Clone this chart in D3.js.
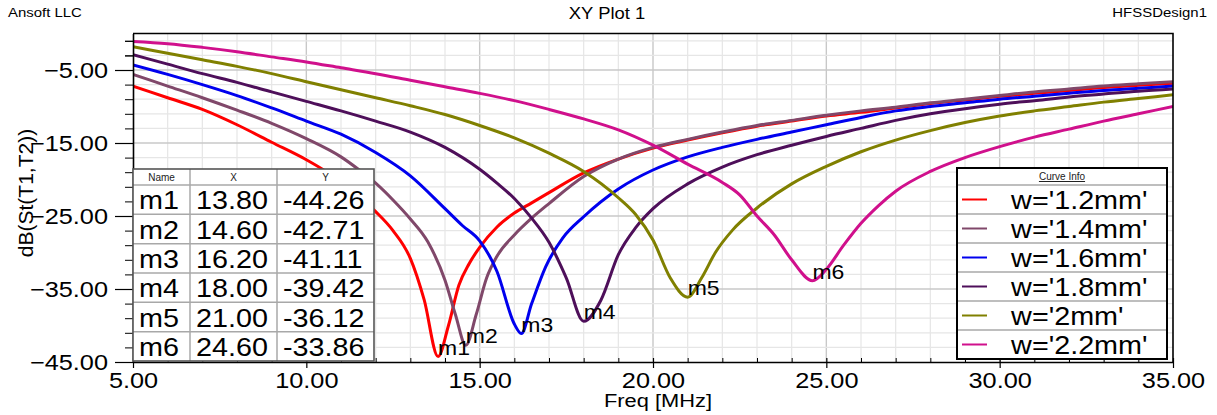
<!DOCTYPE html>
<html>
<head>
<meta charset="utf-8">
<script src="https://cdn.jsdelivr.net/npm/d3@7"></script>
<style>
body { margin: 0; background: #fff; }
svg { display: block; font-family: "Liberation Sans", Arial, sans-serif; }
/* the reference text is a little wider than Arial, so stretch it */
.sxl { transform-box: fill-box; transform-origin: 0% 50%; transform: scaleX(1.15); }
.sxr { transform-box: fill-box; transform-origin: 100% 50%; transform: scaleX(1.15); }
.sxc { transform-box: fill-box; transform-origin: 50% 50%; transform: scaleX(1.15); }
</style>
</head>
<body>
<script>
// XY Plot 1 - dB(St(T1,T2)) vs Freq for six widths w

var width = 1217;
var height = 415;

var seriesNames = ["w='1.2mm'", "w='1.4mm'", "w='1.6mm'", "w='1.8mm'", "w='2mm'", "w='2.2mm'"];
var seriesColors = ["#ff0000", "#80486a", "#0000ee", "#4e0f5a", "#808000", "#d0108c"];

// freq [MHz] and dB for each curve
var f12 = [5,6,7,8,9,10,10.5,11,11.5,12,12.5,13,13.4,13.8,14.1,14.4,14.7,15,15.5,16,16.5,17,18,19,20,21,22,23,24,25,26,27,28,29,30,31,32,33,34,35];
var s12 = [-7.2,-8.8,-10.4,-12.5,-14.9,-17.3,-18.7,-20.3,-22.2,-24.4,-27.0,-30.8,-36.5,-44.26,-40.0,-34.5,-31.5,-29.3,-26.5,-24.6,-23.2,-21.8,-19.1,-17.2,-15.7,-14.6,-13.6,-12.7,-12.0,-11.3,-10.8,-10.2,-9.6,-9.1,-8.6,-8.2,-7.8,-7.4,-7.1,-6.8];

var f14 = [5,6,7,8,9,10,11,11.5,12,12.5,13,13.5,14,14.3,14.6,14.9,15.2,15.5,16,16.5,17,18,19,20,21,22,23,24,25,26,27,28,29,30,31,32,33,34,35];
var s14 = [-5.6,-7.2,-8.8,-10.5,-12.3,-14.4,-16.9,-18.6,-20.5,-22.8,-25.4,-28.5,-33.8,-38.5,-42.71,-38.5,-33.5,-30.5,-27.6,-25.3,-23.3,-19.6,-17.2,-15.6,-14.5,-13.5,-12.6,-11.9,-11.2,-10.6,-10.1,-9.5,-9.0,-8.5,-8.0,-7.6,-7.2,-6.9,-6.6];

var f16 = [5,6,7,8,9,10,11,12,13,14,14.5,15,15.5,16,16.2,16.5,16.9,17.4,18,19,20,21,22,23,24,25,26,27,28,29,30,31,32,33,34,35];
var s16 = [-4.3,-5.6,-7.0,-8.5,-10.2,-12.0,-13.8,-16.3,-19.5,-24.0,-26.3,-28.4,-32.6,-39.8,-41.11,-37.0,-32.0,-28.0,-25.1,-21.3,-18.7,-16.9,-15.6,-14.5,-13.5,-12.5,-11.5,-10.6,-10.0,-9.5,-9.0,-8.6,-8.2,-7.8,-7.5,-7.2];

var f18 = [5,6,7,8,9,10,11,12,13,14,15,15.5,16,16.5,17,17.5,18,18.5,19,19.5,20,21,22,23,24,25,26,27,28,29,30,31,32,33,34,35];
var s18 = [-2.9,-4.2,-5.5,-6.7,-8.0,-9.3,-10.6,-12.0,-13.5,-15.6,-18.6,-20.5,-22.6,-25.3,-28.6,-33.5,-39.42,-36.5,-30.3,-26.6,-24.0,-20.6,-18.3,-16.6,-15.3,-14.1,-13.0,-11.9,-11.0,-10.3,-9.7,-9.2,-8.7,-8.3,-7.9,-7.6];

var f20 = [5,6,7,8,9,10,11,12,13,14,15,16,17,18,19,19.5,20,20.5,21,21.4,21.8,22.3,23,24,25,26,27,28,29,30,31,32,33,34,35];
var s20 = [-1.8,-2.7,-3.6,-4.5,-5.5,-6.6,-7.7,-8.8,-9.9,-11.1,-12.6,-14.3,-16.4,-18.9,-22.5,-24.8,-28.3,-33.5,-36.12,-33.5,-30.0,-26.9,-23.9,-20.6,-18.2,-16.2,-14.6,-13.3,-12.2,-11.3,-10.6,-10.0,-9.4,-8.9,-8.4];

var f22 = [5,6,7,8,9,10,11,12,13,14,15,16,17,18,19,20,21,22,22.5,23,23.5,24,24.6,25,25.5,26,26.5,27,28,29,30,31,32,33,34,35];
var s22 = [-1.1,-1.4,-1.9,-2.5,-3.2,-3.9,-4.7,-5.5,-6.4,-7.3,-8.2,-9.2,-10.4,-11.7,-13.2,-15.3,-17.9,-20.4,-22.1,-25.0,-27.6,-31.0,-33.86,-32.3,-29.0,-26.0,-23.6,-21.6,-18.9,-17.0,-15.5,-14.2,-13.1,-12.0,-11.0,-10.0];

var curveFreqs = [f12, f14, f16, f18, f20, f22];
var curveDbs = [s12, s14, s16, s18, s20, s22];

// markers
var markerNames = ["m1", "m2", "m3", "m4", "m5", "m6"];
var markerX = [13.80, 14.60, 16.20, 18.00, 21.00, 24.60];
var markerY = [-44.26, -42.71, -41.11, -39.42, -36.12, -33.86];

// ticks
var xMajor = [5, 10, 15, 20, 25, 30, 35];
var xMinor = d3.range(6, 35).filter(function(d){ return d % 5 != 0; });
var yMajor = [-45, -35, -25, -15, -5];
var yMinor = d3.range(-43, 0, 2).filter(function(d){ return (d + 5) % 10 != 0; });

var plotLeft = 133, plotRight = 1173, plotTop = 33.5, plotBottom = 362;

var xScale = d3.scaleLinear().domain([5, 35]).range([plotLeft, plotRight]);
var yScale = d3.scaleLinear().domain([-45, 0]).range([plotBottom, plotTop]);

var svg = d3.select("body")
            .append("svg")
            .attr("width", width)
            .attr("height", height);

svg.append("rect").attr("width", width).attr("height", height).attr("fill", "#fff");

// grid
var grid = svg.append("g");
grid.selectAll(".vmin").data(xMinor).enter().append("line")
    .attr("x1", function(d){ return xScale(d); }).attr("x2", function(d){ return xScale(d); })
    .attr("y1", plotTop).attr("y2", plotBottom)
    .attr("stroke", "#e6e6e6").attr("stroke-width", 1.2);
grid.selectAll(".vmaj").data(xMajor.slice(1, -1)).enter().append("line")
    .attr("x1", function(d){ return xScale(d); }).attr("x2", function(d){ return xScale(d); })
    .attr("y1", plotTop).attr("y2", plotBottom)
    .attr("stroke", "#c8c8c8").attr("stroke-width", 1.4);
grid.selectAll(".hmin").data(yMinor).enter().append("line")
    .attr("x1", plotLeft).attr("x2", plotRight)
    .attr("y1", function(d){ return yScale(d); }).attr("y2", function(d){ return yScale(d); })
    .attr("stroke", "#e6e6e6").attr("stroke-width", 1.2);
grid.selectAll(".hmaj").data(yMajor.slice(1)).enter().append("line")
    .attr("x1", plotLeft).attr("x2", plotRight)
    .attr("y1", function(d){ return yScale(d); }).attr("y2", function(d){ return yScale(d); })
    .attr("stroke", "#c8c8c8").attr("stroke-width", 1.4);

// curves
svg.append("clipPath").attr("id", "plot-area")
   .append("rect").attr("x", plotLeft).attr("y", plotTop)
   .attr("width", plotRight - plotLeft).attr("height", plotBottom - plotTop);

var line = d3.line()
             .x(function(d){ return xScale(d[0]); })
             .y(function(d){ return yScale(d[1]); })
             .curve(d3.curveMonotoneX);

svg.append("g").attr("clip-path", "url(#plot-area)")
   .selectAll("path")
   .data(d3.range(seriesNames.length))
   .enter()
   .append("path")
   .attr("d", function(i){ return line(d3.zip(curveFreqs[i], curveDbs[i])); })
   .attr("fill", "none")
   .attr("stroke", function(i){ return seriesColors[i]; })
   .attr("stroke-width", 3)
   .attr("stroke-linejoin", "round");

// axes
var yAxis = d3.axisLeft(yScale).tickValues(yMajor).tickFormat(d3.format(".2f"))
              .tickSize(18).tickSizeOuter(0).tickPadding(7);
var yAxisMinor = d3.axisLeft(yScale).tickValues(yMinor.concat([-3, -1])).tickFormat("")
                   .tickSize(8).tickSizeOuter(0);
var xAxis = d3.axisBottom(xScale).tickValues(xMajor).tickFormat(d3.format(".2f"))
              .tickSize(6).tickSizeOuter(0).tickPadding(4);
var xAxisMinor = d3.axisBottom(xScale).tickValues(xMinor).tickFormat("")
                   .tickSize(-4).tickSizeOuter(0);

svg.append("g").attr("transform", "translate(" + plotLeft + ",0)").call(yAxisMinor)
   .call(function(g){ g.select(".domain").remove(); });
svg.append("g").attr("transform", "translate(0," + plotBottom + ")").call(xAxisMinor)
   .call(function(g){ g.select(".domain").remove(); });

var gy = svg.append("g").attr("transform", "translate(" + plotLeft + ",0)").call(yAxis);
var gx = svg.append("g").attr("transform", "translate(0," + plotBottom + ")").call(xAxis);
gx.selectAll(".tick line").attr("y1", -4);

[gx, gy].forEach(function(g){
  g.attr("font-family", null).attr("font-size", null);
  g.select(".domain").attr("stroke", "#000").attr("stroke-width", 1.6);
  g.selectAll(".tick line").attr("stroke", "#000").attr("stroke-width", 1.2);
  g.selectAll(".tick text").attr("font-size", "22px").attr("fill", "#000");
});
gy.selectAll(".tick text").attr("class", "sxr");
gx.selectAll(".tick text").attr("class", "sxc");
svg.selectAll("g .tick line").attr("stroke", "#000");

// top and right border
svg.append("path")
   .attr("d", "M" + plotLeft + "," + plotTop + "H" + plotRight + "V" + plotBottom)
   .attr("fill", "none").attr("stroke", "#000").attr("stroke-width", 1.6);

// marker labels
svg.selectAll(".mlabel")
   .data(d3.range(markerNames.length))
   .enter()
   .append("text")
   .attr("class", "sxl")
   .attr("x", function(i){ return xScale(markerX[i]); })
   .attr("y", function(i){ return yScale(markerY[i]) - 2; })
   .attr("font-size", "20px")
   .text(function(i){ return markerNames[i]; });

// marker table
var colX = [133, 190, 277, 374];
var tTop = 169, tHead = 185, tBottom = 361;
var rowH = (tBottom - tHead) / markerNames.length;
var table = svg.append("g");
table.append("rect").attr("x", colX[0]).attr("y", tTop)
     .attr("width", colX[3] - colX[0]).attr("height", tBottom - tTop)
     .attr("fill", "#fff");
table.selectAll(".rl").data(d3.range(markerNames.length)).enter().append("line")
     .attr("x1", colX[0]).attr("x2", colX[3])
     .attr("y1", function(i){ return tHead + i * rowH; })
     .attr("y2", function(i){ return tHead + i * rowH; })
     .attr("stroke", "#a8a8a8").attr("stroke-width", 1.5);
table.selectAll(".cl").data([colX[1], colX[2]]).enter().append("line")
     .attr("x1", function(d){ return d; }).attr("x2", function(d){ return d; })
     .attr("y1", tTop).attr("y2", tBottom)
     .attr("stroke", "#a8a8a8").attr("stroke-width", 1.5);
table.append("rect").attr("x", colX[0]).attr("y", tTop)
     .attr("width", colX[3] - colX[0]).attr("height", tBottom - tTop)
     .attr("fill", "none").attr("stroke", "#555").attr("stroke-width", 1.6);
var headers = ["Name", "X", "Y"];
table.selectAll(".th").data(headers).enter().append("text")
     .attr("x", function(d, i){ return (colX[i] + colX[i + 1]) / 2; })
     .attr("y", tHead - 4)
     .attr("text-anchor", "middle")
     .attr("font-size", "10px").attr("fill", "#222")
     .text(function(d){ return d; });
var cells = [];
markerNames.forEach(function(name, i){
  cells.push([i, 0, name]);
  cells.push([i, 1, markerX[i].toFixed(2)]);
  cells.push([i, 2, markerY[i].toFixed(2)]);
});
table.selectAll(".td").data(cells).enter().append("text")
     .attr("class", "sxl")
     .attr("x", function(d){ return colX[d[1]] + 6; })
     .attr("y", function(d){ return tHead + (d[0] + 1) * rowH - 5; })
     .attr("font-size", "25px").attr("fill", "#000")
     .text(function(d){ return d[2]; });

// legend (Curve Info)
var lx0 = 957, lx1 = 1167, lTop = 168, lHead = 185, lBottom = 359;
var lRow = (lBottom - lHead) / seriesNames.length;
var legend = svg.append("g");
legend.append("rect").attr("x", lx0).attr("y", lTop)
      .attr("width", lx1 - lx0).attr("height", lBottom - lTop).attr("fill", "#fff");
legend.selectAll(".ll").data(d3.range(seriesNames.length)).enter().append("line")
      .attr("x1", lx0).attr("x2", lx1)
      .attr("y1", function(i){ return lHead + i * lRow; })
      .attr("y2", function(i){ return lHead + i * lRow; })
      .attr("stroke", "#a8a8a8").attr("stroke-width", 1.5);
legend.append("rect").attr("x", lx0).attr("y", lTop)
      .attr("width", lx1 - lx0).attr("height", lBottom - lTop)
      .attr("fill", "none").attr("stroke", "#000").attr("stroke-width", 2);
legend.append("text").attr("x", (lx0 + lx1) / 2).attr("y", lHead - 5)
      .attr("text-anchor", "middle").attr("font-size", "10px").attr("fill", "#222")
      .attr("text-decoration", "underline")
      .text("Curve Info");
legend.selectAll(".ls").data(d3.range(seriesNames.length)).enter().append("line")
      .attr("x1", 962).attr("x2", 987)
      .attr("y1", function(i){ return lHead + (i + 0.5) * lRow; })
      .attr("y2", function(i){ return lHead + (i + 0.5) * lRow; })
      .attr("stroke", function(i){ return seriesColors[i]; })
      .attr("stroke-width", 2);
legend.selectAll(".lt").data(d3.range(seriesNames.length)).enter().append("text")
      .attr("class", "sxl")
      .attr("x", 1011)
      .attr("y", function(i){ return lHead + (i + 1) * lRow - 5; })
      .attr("font-size", "25px").attr("fill", "#000")
      .text(function(i){ return seriesNames[i]; });

// titles
svg.append("text").attr("class", "sxl").attr("x", 8).attr("y", 17)
   .attr("font-size", "13px").text("Ansoft LLC");
svg.append("text").attr("class", "sxc").attr("x", 607).attr("y", 19)
   .attr("text-anchor", "middle").attr("font-size", "16px").text("XY Plot 1");
svg.append("text").attr("class", "sxr").attr("x", 1207).attr("y", 17)
   .attr("text-anchor", "end").attr("font-size", "13px").text("HFSSDesign1");

// axis labels
svg.append("text").attr("class", "sxc")
   .attr("x", (plotLeft + plotRight) / 2 + 5).attr("y", 407)
   .attr("text-anchor", "middle").attr("font-size", "19px").text("Freq [MHz]");
svg.append("text")
   .attr("transform", "translate(33,193) rotate(-90)")
   .attr("text-anchor", "middle").attr("font-size", "21px").text("dB(St(T1,T2))");
</script>
</body>
</html>
